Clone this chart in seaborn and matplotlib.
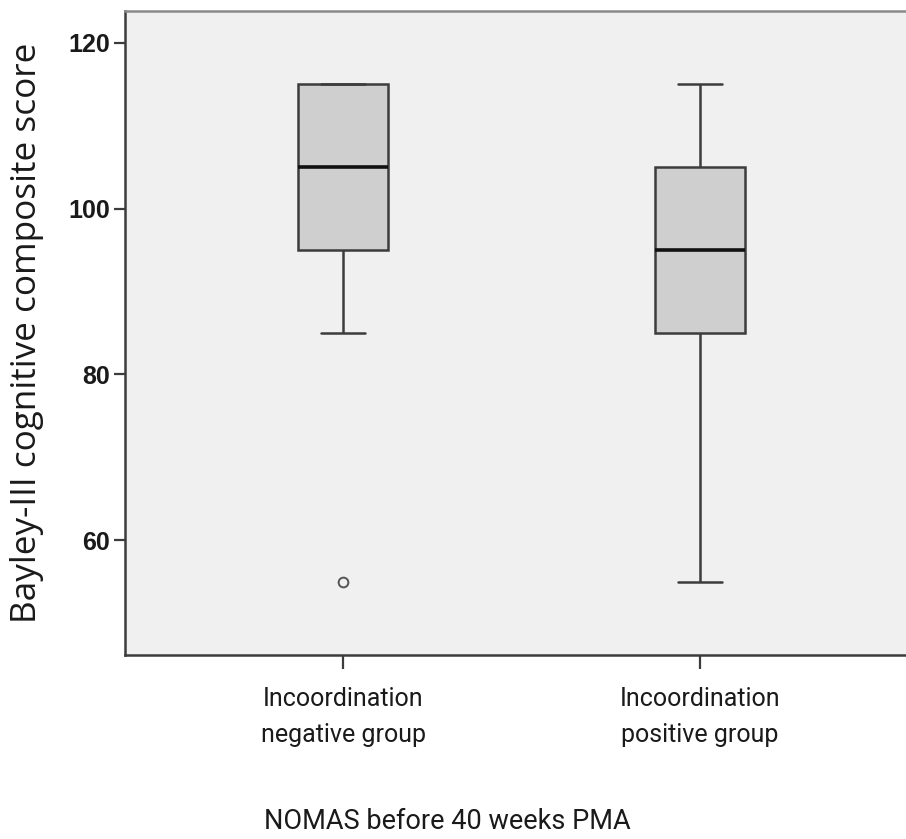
import numpy as np
import pandas as pd
import matplotlib
matplotlib.use('Agg')
import matplotlib.pyplot as plt
import seaborn as sns

# === DATA (Bayley-III cognitive composite scores) ===
groups = ["Incoordination\nnegative group", "Incoordination\npositive group"]
negative_scores = [55, 85, 95, 100, 105, 110, 115, 115, 115]
positive_scores = [55, 80, 85, 90, 95, 100, 105, 110, 115]
y_ticks = [60, 80, 100, 120]

df = pd.DataFrame({
    'group': [groups[0]] * len(negative_scores) + [groups[1]] * len(positive_scores),
    'score': negative_scores + positive_scores,
})

# === STYLE ===
sns.set_theme(style="white")
plt.rcParams['font.family'] = ['Roboto', 'DejaVu Sans']

LINE = '#3c3c3c'
TEXT = '#1a1a1a'

fig = plt.figure(figsize=(9.06, 8.39), dpi=100)
ax = fig.add_axes([125 / 906, 184 / 839, 785 / 906, 644 / 839])
ax.set_facecolor('#f0f0f0')

sns.boxplot(
    data=df, x='group', y='score', order=groups, ax=ax,
    color='#cfcfcf', saturation=1, width=0.25, linecolor=LINE, linewidth=1.8,
    medianprops=dict(color='#111111', linewidth=2.6),
    flierprops=dict(marker='o', markersize=7, markerfacecolor='none',
                    markeredgecolor='#555555', markeredgewidth=1.4),
)

ax.set_xlim(-0.611, 1.588)
ax.set_ylim(46.2, 123.8)
ax.set_yticks(y_ticks)
ax.set_yticklabels([str(t) for t in y_ticks], family=['Liberation Sans', 'DejaVu Sans'],
                   fontweight='bold', fontsize=18, color=TEXT)
ax.tick_params(axis='y', length=8, width=1.6, color=LINE, pad=3, left=True)
ax.tick_params(axis='x', length=10, width=1.6, color=LINE, pad=13, labelsize=18,
               bottom=True)
for lbl in ax.get_xticklabels():
    lbl.set_linespacing(1.65)
    lbl.set_color(TEXT)

for side in ['left', 'bottom', 'top']:
    ax.spines[side].set_color(LINE)
    ax.spines[side].set_linewidth(1.8)
ax.spines['top'].set_color('#8a8a8a')
ax.spines['right'].set_visible(False)

ax.set_ylabel('Bayley-III cognitive composite score', fontsize=25.3, color=TEXT,
              family=['Open Sans', 'DejaVu Sans'])
ax.set_xlabel('NOMAS before 40 weeks PMA', fontsize=19.5, color=TEXT)
ax.yaxis.set_label_coords(-0.103, 0.5)
ax.xaxis.set_label_coords(0.411, -0.238)

fig.savefig('out.png', dpi=100, facecolor='white')
